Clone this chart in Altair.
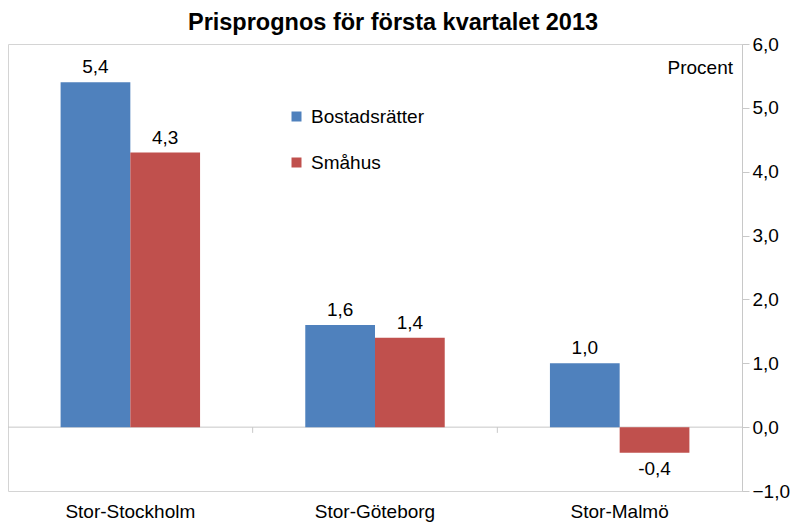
import altair as alt
import pandas as pd

regions = ["Stor-Stockholm", "Stor-Göteborg", "Stor-Malmö"]
series = ["Bostadsrätter", "Småhus"]
bostadsratter = [5.4, 1.6, 1.0]
smahus = [4.3, 1.4, -0.4]
y_ticks = [-1, 0, 1, 2, 3, 4, 5, 6]
colors = ["#4F81BD", "#C0504D"]

rows = []
for i, r in enumerate(regions):
    for s, vals in zip(series, [bostadsratter, smahus]):
        v = vals[i]
        rows.append({"Region": r, "Serie": s, "Value": v,
                     "Label": f"{v:.1f}".replace(".", ",")})
df = pd.DataFrame(rows)
boundaries = pd.DataFrame({"Region": regions[:-1]})

FONT = "Liberation Sans"
FS = 19

x = alt.X("Region:N", sort=regions,
          scale=alt.Scale(paddingInner=0.43, paddingOuter=0.215),
          axis=alt.Axis(title=None, labelAngle=0, domain=False, ticks=False,
                        labelFontSize=FS, labelPadding=11, labelColor="#000",
                        labelFont=FONT))
y_scale = alt.Scale(domain=[-1, 6], nice=False)
y = alt.Y("Value:Q", scale=y_scale,
          axis=alt.Axis(title=None, orient="right", values=y_ticks, grid=False,
                        domainColor="#c8c8c8", tickColor="#c8c8c8", tickSize=7,
                        labelFontSize=FS, labelPadding=3, labelColor="#000",
                        labelFont=FONT,
                        labelExpr="replace(format(datum.value, '.1f'), '.', ',')"))

bars = alt.Chart(df).mark_bar().encode(
    x=x, xOffset=alt.XOffset("Serie:N", sort=series), y=y,
    color=alt.Color("Serie:N", sort=series,
                    scale=alt.Scale(domain=series, range=colors),
                    legend=alt.Legend(title=None, orient="none", legendX=279,
                                      legendY=63, symbolType="square",
                                      symbolSize=100, symbolStrokeWidth=0,
                                      labelFontSize=FS, labelFont=FONT,
                                      labelColor="#000", rowPadding=26,
                                      padding=0, labelOffset=5)),
)

pos_labels = alt.Chart(df).transform_filter("datum.Value >= 0").mark_text(
    baseline="bottom", dy=-5, fontSize=FS, font=FONT, color="#000"
).encode(x=x, xOffset=alt.XOffset("Serie:N", sort=series), y=y, text="Label:N")

neg_labels = alt.Chart(df).transform_filter("datum.Value < 0").mark_text(
    baseline="top", dy=7, fontSize=FS, font=FONT, color="#000"
).encode(x=x, xOffset=alt.XOffset("Serie:N", sort=series), y=y, text="Label:N")

zero = alt.Chart().mark_rule(color="#c8c8c8", strokeWidth=1).encode(
    y=alt.datum(0, scale=y_scale)
)

# small ticks on the zero line at the category boundaries
cat_ticks = alt.Chart(boundaries).mark_rule(color="#c8c8c8", strokeWidth=1).encode(
    x=alt.X("Region:N", sort=regions, bandPosition=1,
            scale=alt.Scale(domain=regions, paddingInner=0, paddingOuter=0),
            axis=None),
    y=alt.datum(0, scale=y_scale),
    y2=alt.datum(-0.09),
)

procent = alt.Chart().mark_text(
    text="Procent", align="right", baseline="middle", fontSize=FS, font=FONT,
    color="#000"
).encode(x=alt.value(725), y=alt.value(24))

main = alt.layer(zero, bars, pos_labels, neg_labels, procent)

chart = alt.layer(main, cat_ticks).resolve_scale(x="independent").properties(
    width=734, height=447,
    title=alt.TitleParams("Prisprognos för första kvartalet 2013", fontSize=23.5,
                          font=FONT, fontWeight="bold", color="#000",
                          anchor="middle", dx=18, offset=1),
    autosize=alt.AutoSizeParams(type="none"),
    padding={"left": 0, "top": 36, "right": 48, "bottom": 32},
).configure_view(stroke="#d4d4d4", strokeWidth=1)

chart.save("out.html", embed_options={"renderer": "svg", "actions": False})
